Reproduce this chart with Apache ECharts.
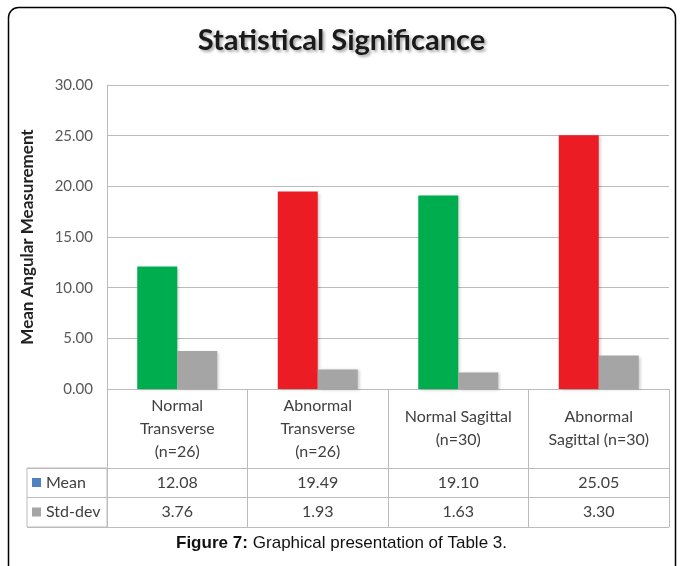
<!DOCTYPE html>
<html>
<head>
<meta charset="utf-8">
<script src="https://cdn.jsdelivr.net/npm/echarts@6/dist/echarts.min.js"></script>
<style>
  html, body { margin: 0; padding: 0; background: #fff; }
  #chart { width: 683px; height: 566px; }
</style>
</head>
<body>
<div id="chart"></div>
<script>
// data
const categories = ["Normal\nTransverse\n(n=26)", "Abnormal\nTransverse\n(n=26)", "Normal Sagittal\n(n=30)", "Abnormal\nSagittal (n=30)"];
const meanValues = [12.08, 19.49, 19.10, 25.05];
const stdValues = [3.76, 1.93, 1.63, 3.30];
const meanColors = ["#00ad4e", "#ec1c24", "#00ad4e", "#ec1c24"];
const yTicks = [0, 5, 10, 15, 20, 25, 30];

const font = "Lato, 'Open Sans', sans-serif";
const capFont = "'Liberation Sans', Arial, sans-serif";
const lineGray = "#bcbcbc";
const textGray = "#404040";

const chart = echarts.init(document.getElementById("chart"));

// the data table under the plot is built from extra bottom x axes with offsets
const tableAxis = (offset, length, margin, formatter) => ({
  type: "category",
  gridIndex: 0,
  position: "bottom",
  offset,
  data: categories,
  axisLine: { show: true, lineStyle: { color: lineGray, width: 1 } },
  axisTick: { show: length > 0, length, lineStyle: { color: lineGray, width: 1 } },
  axisLabel: { show: !!formatter, formatter, margin, verticalAlign: "middle", color: textGray, fontFamily: font, fontSize: 16, lineHeight: 23, interval: 0 },
});

chart.setOption({
  animation: false,
  title: [
    {
      text: "Statistical Significance",
      left: "center", top: 21,
      textStyle: { fontFamily: font, fontSize: 29, fontWeight: "bold", color: "#1a1a1a", textShadowColor: "rgba(0,0,0,0.35)", textShadowBlur: 3, textShadowOffsetX: 2, textShadowOffsetY: 2 },
    },
    {
      text: "{b|Figure 7:} {n|Graphical presentation of Table 3.}",
      left: "center", top: 529,
      textStyle: { fontWeight: "normal", rich: {
        b: { fontFamily: capFont, fontSize: 17, fontWeight: "bold", color: "#111" },
        n: { fontFamily: capFont, fontSize: 17, fontWeight: "normal", color: "#111" },
      } },
    },
  ],
  legend: {
    orient: "vertical",
    left: 32, top: 472.5, padding: 0,
    itemWidth: 9, itemHeight: 9, itemGap: 9.5,
    icon: "rect",
    data: ["Mean", "Std-dev"],
    textStyle: { fontFamily: font, fontSize: 16, lineHeight: 20, color: textGray },
  },
  graphic: [{
    type: "rect",
    shape: { x: 8.5, y: 7.5, width: 667, height: 640, r: [10, 10, 0, 0] },
    style: { fill: "transparent", stroke: "#000", lineWidth: 1.5 },
    silent: true,
  }],
  grid: [
    { left: 107, right: 14, top: 85, height: 304 },
    { left: 27, width: 80, top: 468, height: 59, show: true, borderColor: lineGray, borderWidth: 1 },
  ],
  xAxis: [
    tableAxis(0, 79, 39.5, v => v),
    tableAxis(79, 29, 14.5, (v, i) => meanValues[i].toFixed(2)),
    tableAxis(108, 30, 15, (v, i) => stdValues[i].toFixed(2)),
    tableAxis(138, 0, 0, null),
    { type: "value", gridIndex: 1, show: false },
  ],
  yAxis: [
    {
      type: "value", gridIndex: 0,
      min: yTicks[0], max: yTicks[yTicks.length - 1], interval: 5,
      name: "Mean Angular Measurement",
      nameLocation: "middle", nameGap: 71,
      nameTextStyle: { fontFamily: font, fontSize: 17, fontWeight: "bold", color: "#222" },
      axisLine: { show: true, lineStyle: { color: lineGray } },
      axisTick: { show: false },
      axisLabel: { formatter: v => v.toFixed(2), color: "#595959", fontFamily: font, fontSize: 15, margin: 14 },
      splitLine: { lineStyle: { color: lineGray, width: 1.2 } },
    },
    {
      type: "category", gridIndex: 1,
      data: ["Std-dev", "Mean"],
      axisLine: { show: false }, axisTick: { show: false }, axisLabel: { show: false },
      splitLine: { show: true, lineStyle: { color: lineGray } },
    },
  ],
  series: [
    {
      name: "Mean", type: "bar", xAxisIndex: 0, yAxisIndex: 0,
      barWidth: 40, barGap: "0%",
      itemStyle: { color: "#4f81bd", shadowColor: "rgba(0,0,0,0.2)", shadowBlur: 3, shadowOffsetX: 2, shadowOffsetY: 1 },
      data: meanValues.map((v, i) => ({ value: v, itemStyle: { color: meanColors[i] } })),
    },
    {
      name: "Std-dev", type: "bar", xAxisIndex: 0, yAxisIndex: 0,
      barWidth: 40, barGap: "0%",
      itemStyle: { color: "#a5a5a5", shadowColor: "rgba(0,0,0,0.2)", shadowBlur: 3, shadowOffsetX: 2, shadowOffsetY: 1 },
      data: stdValues,
    },
  ],
});
</script>
</body>
</html>
